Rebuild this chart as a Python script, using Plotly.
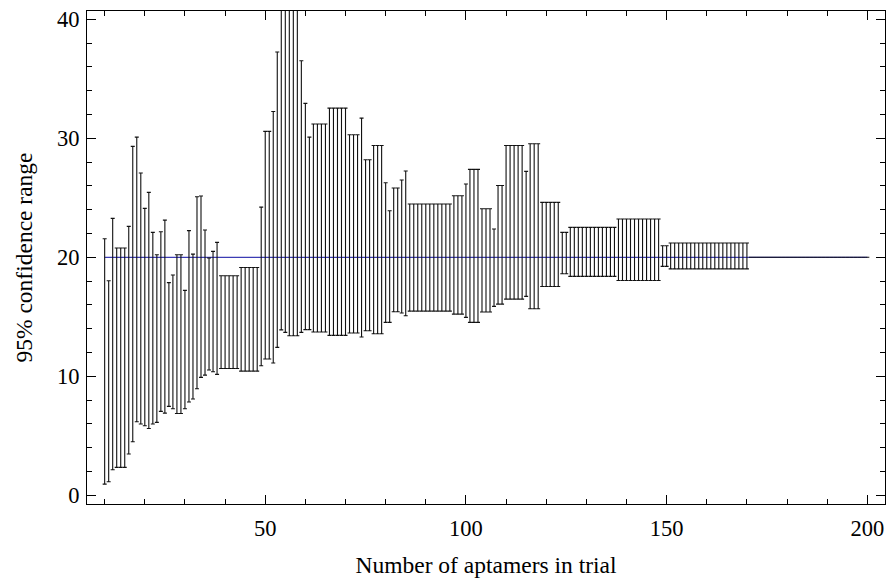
import plotly.graph_objects as go

# trial sizes
n_values = list(range(10, 201))

# upper bound of 95% confidence range
upper = (
    [21.56, 18.03, 23.27, 20.78, 20.78, 20.78, 22.6, 29.32, 30.1, 27.08,   # 10-19
     24.11, 25.46, 22.1, 20.22, 22.15, 23.13, 17.87, 18.51, 20.22, 20.22,  # 20-29
     17.22, 22.24, 20.27, 25.09, 25.15, 22.29, 19.94, 20.5, 21.26, 18.45,  # 30-39
     18.45, 18.45, 18.45, 18.45, 19.15, 19.15, 19.15, 19.15, 19.15, 24.22, # 40-49
     30.58, 30.58, 32.26, 37.25, 41.0, 41.0, 41.0, 41.0, 41.0, 36.52,      # 50-59
     32.94, 30.1, 31.2, 31.2, 31.2, 31.2, 32.54, 32.54, 32.54, 32.54,      # 60-69
     32.54, 30.3, 30.3, 30.3, 31.7, 28.2, 28.2, 29.4, 29.4, 29.4,          # 70-79
     26.27, 23.92, 25.82, 25.82, 26.5, 27.25, 24.48, 24.48, 24.48, 24.48,  # 80-89
     24.48, 24.48, 24.48, 24.48, 24.48, 24.48, 24.48, 25.18, 25.18, 25.18, # 90-99
     26.16, 27.39, 27.39, 27.39, 24.08, 24.08, 24.08, 22.38, 26.04, 26.04, # 100-109
     29.4, 29.4, 29.4, 29.4, 29.4, 27.22, 29.54, 29.54, 29.54, 24.62,      # 110-119
     24.62, 24.62, 24.62, 24.62, 22.1, 22.1, 22.52, 22.52, 22.52, 22.52,   # 120-129
     22.52, 22.52, 22.52, 22.52, 22.52, 22.52, 22.52, 22.52, 23.22, 23.22, # 130-139
     23.22, 23.22, 23.22, 23.22, 23.22, 23.22, 23.22, 23.22, 23.22, 20.97, # 140-149
     20.97] + [21.2] * 20 + [20.0] * 30                                    # 150, 151-170, 171-200
)

# lower bound of 95% confidence range
lower = (
    [0.94, 1.14, 2.15, 2.35, 2.35, 2.35, 3.47, 4.5, 6.18, 5.99,            # 10-19
     5.85, 5.62, 5.99, 6.13, 7.05, 6.91, 7.47, 7.28, 6.88, 6.88,           # 20-29
     7.28, 7.84, 8.09, 8.96, 9.91, 10.1, 10.53, 10.39, 10.16, 10.66,       # 30-39
     10.66, 10.66, 10.66, 10.66, 10.44, 10.44, 10.44, 10.44, 10.44, 10.89, # 40-49
     11.45, 11.45, 11.12, 12.43, 13.9, 13.69, 13.41, 13.41, 13.41, 13.69,  # 50-59
     13.92, 13.92, 13.73, 13.73, 13.73, 13.73, 13.44, 13.44, 13.44, 13.44, # 60-69
     13.44, 13.64, 13.64, 13.64, 13.3, 13.83, 13.83, 13.58, 13.58, 13.58,  # 70-79
     14.53, 14.53, 15.43, 15.43, 15.32, 15.09, 15.48, 15.48, 15.48, 15.48, # 80-89
     15.48, 15.48, 15.48, 15.48, 15.48, 15.48, 15.48, 15.23, 15.23, 15.23, # 90-99
     14.95, 14.53, 14.53, 14.53, 15.4, 15.4, 15.4, 15.88, 16.07, 16.07,    # 100-109
     16.49, 16.49, 16.49, 16.49, 16.49, 16.72, 15.68, 15.68, 15.68, 17.55, # 110-119
     17.55, 17.55, 17.55, 17.55, 18.62, 18.62, 18.4, 18.4, 18.4, 18.4,     # 120-129
     18.4, 18.4, 18.4, 18.4, 18.4, 18.4, 18.4, 18.4, 18.05, 18.05,         # 130-139
     18.05, 18.05, 18.05, 18.05, 18.05, 18.05, 18.05, 18.05, 18.05, 19.24, # 140-149
     19.24] + [19.03] * 20 + [20.0] * 30                                   # 150, 151-170, 171-200
)

true_value = 20.0
x_ticks = [50, 100, 150, 200]
y_ticks = [0, 10, 20, 30, 40]

mid = [(a + b) / 2 for a, b in zip(lower, upper)]
plus = [u - m for u, m in zip(upper, mid)]
minus = [m - l for l, m in zip(lower, mid)]

FONT = "Liberation Serif"
TICK_SIZE = 22.5
TITLE_SIZE = 23.5

fig = go.Figure()

fig.add_trace(go.Scatter(
    x=[n_values[0], n_values[-1]], y=[true_value, true_value],
    mode="lines", line=dict(color="#3c3cb4", width=1.2),
    hoverinfo="skip", showlegend=False,
))

fig.add_trace(go.Scatter(
    x=n_values, y=mid, mode="markers",
    marker=dict(size=1, color="rgba(0,0,0,0)"),
    error_y=dict(type="data", symmetric=False, array=plus, arrayminus=minus,
                 color="#111111", thickness=1.1, width=2),
    cliponaxis=False, showlegend=False,
))

axis_common = dict(
    showline=True, linecolor="black", linewidth=1, mirror="ticks",
    ticks="inside", ticklen=9, tickwidth=1, tickcolor="black",
    showgrid=False, zeroline=False, automargin=False,
    tickfont=dict(family=FONT, size=TICK_SIZE, color="black"),
)

fig.update_xaxes(
    range=[5.6, 204.4], tickvals=x_ticks, ticktext=[str(v) for v in x_ticks],
    minor=dict(tickmode="array", tickvals=[v for v in range(10, 201, 10) if v not in x_ticks],
               ticks="inside", ticklen=5, tickcolor="black", tickwidth=1),
    title=dict(text="Number of aptamers in trial", font=dict(family=FONT, size=TITLE_SIZE, color="black"),
               standoff=16),
    ticklabelstandoff=4,
    **axis_common,
)
fig.update_yaxes(
    range=[-0.73, 40.7], tickvals=y_ticks, ticktext=[str(v) for v in y_ticks],
    minor=dict(tickmode="array", tickvals=[v for v in range(0, 41, 2) if v not in y_ticks],
               ticks="inside", ticklen=5, tickcolor="black", tickwidth=1),
    title=dict(text="95% confidence range", font=dict(family=FONT, size=TITLE_SIZE, color="black"),
               standoff=17),
    ticklabelstandoff=2,
    **axis_common,
)

fig.update_layout(
    width=889, height=586,
    margin=dict(l=87, r=4, t=11, b=82),
    paper_bgcolor="white", plot_bgcolor="white",
    font=dict(family=FONT, size=TICK_SIZE, color="black"),
    showlegend=False,
)

fig.write_html("out.html", config={"displayModeBar": False},
               post_script="document.body.style.margin='0';")
